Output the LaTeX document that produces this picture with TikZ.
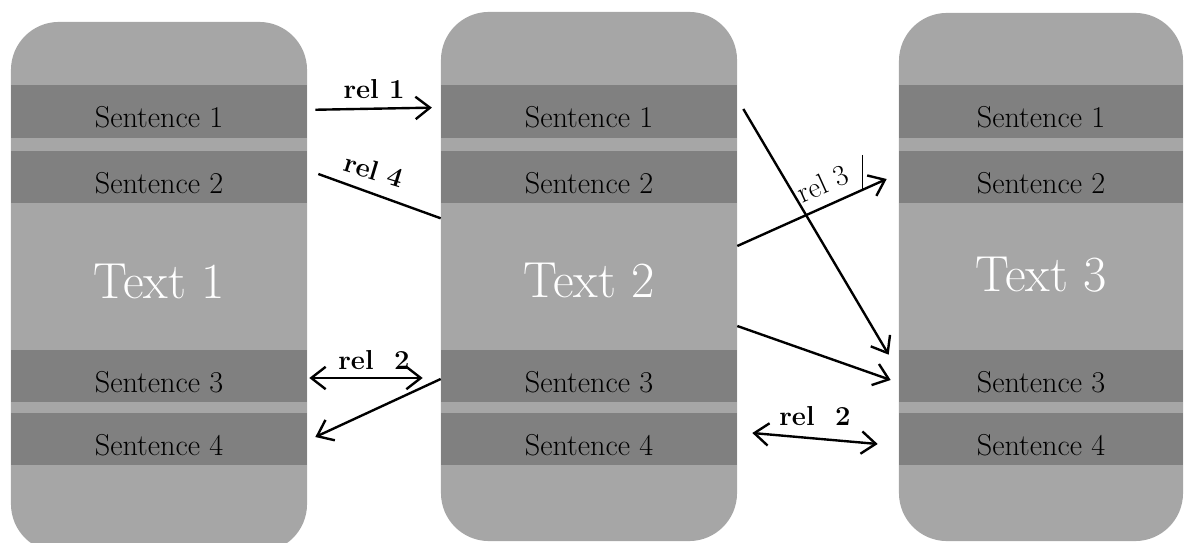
\documentclass[tikz,border=0pt]{standalone}
\usepackage{tikz}
\usetikzlibrary{arrows.meta, positioning}

\definecolor{panelgray}{HTML}{A6A6A6}
\definecolor{bandgray}{HTML}{808080}

\begin{document}
\begin{tikzpicture}[
  x=0.025cm, y=-0.025cm,
  panel/.style={rectangle, rounded corners=1.2cm, fill=panelgray},
  title/.style={text=white, font=\fontsize{36}{42}\selectfont},
  band/.style={rectangle, fill=bandgray, minimum height=1.3cm, text height=23pt, text depth=0pt, font=\fontsize{21.5}{25}\selectfont},
  arr/.style={-{Straight Barb[length=3.6mm, width=5.6mm]}, line width=1.7pt},
  darr/.style={{Straight Barb[length=3.6mm, width=5.6mm]}-{Straight Barb[length=3.6mm, width=5.6mm]}, line width=1.7pt},
  rel/.style={font=\fontsize{19.5}{23}\selectfont\bfseries}
]
  \useasboundingbox (0,0) rectangle (1184,543);

  % the three texts
  \node[panel, minimum width=7.4cm, minimum height=13.25cm] (t1) at (159,287) {};
  \node[panel, minimum width=7.4cm, minimum height=13.225cm] (t2) at (589,276.5) {};
  \node[panel, minimum width=7.1cm, minimum height=13.2cm] (t3) at (1041,277) {};
  \node[title] (x1) at ([yshift=0.15cm]t1.center) {Text 1};
  \node[title] (x2) at ([yshift=-0.11cm]t2.center) {Text 2};
  \node[title] (x3) at ([yshift=0.05cm]t3.center) {Text 3};

  % sentences
  \node[band, minimum width=7.4cm] (a1) at (159,111.5) {Sentence 1};
  \node[band, minimum width=7.4cm] (a2) at (159,177) {Sentence 2};
  \node[band, minimum width=7.4cm] (a3) at (159,376) {Sentence 3};
  \node[band, minimum width=7.4cm] (a4) at (159,439) {Sentence 4};

  \node[band, minimum width=7.4cm] (b1) at (589,111.5) {Sentence 1};
  \node[band, minimum width=7.4cm] (b2) at (589,177) {Sentence 2};
  \node[band, minimum width=7.4cm] (b3) at (589,376) {Sentence 3};
  \node[band, minimum width=7.4cm] (b4) at (589,439) {Sentence 4};

  \node[band, minimum width=7.1cm] (c1) at (1041,111.5) {Sentence 1};
  \node[band, minimum width=7.1cm] (c2) at (1041,177) {Sentence 2};
  \node[band, minimum width=7.1cm] (c3) at (1041,376) {Sentence 3};
  \node[band, minimum width=7.1cm] (c4) at (1041,439) {Sentence 4};

  % relations between text 1 and text 2
  \draw[arr, shorten <=0.2cm, shorten >=0.22cm] ([yshift=0.04cm]a1.east) -- ([yshift=0.1cm]b1.west)
    node[rel, midway, above=3pt] {rel 1};
  \draw[line width=1.7pt] ([xshift=0.275cm, yshift=0.075cm]a2.east) -- ([yshift=-0.375cm]b2.south west)
    node[rel, pos=0.4, above=5pt, sloped, rotate=3] {rel 4};
  \draw[darr, shorten <=0.05cm, shorten >=0.45cm] ([yshift=-0.05cm]a3.east) -- ([yshift=-0.05cm]b3.west)
    node[rel, midway, above=2pt] {rel\ \ 2};
  \draw[arr] ([yshift=-0.075cm]b3.west) -- ([xshift=0.2cm, yshift=0.05cm]a4.east);

  % relations between text 2 and text 3
  \draw[arr] ([xshift=0.15cm, yshift=0.0625cm]b1.east) -- ([xshift=-0.25cm, yshift=-0.125cm]c3.north west);
  \draw[arr] ([yshift=0.7625cm]t2.east) -- ([xshift=-0.3cm, yshift=-0.05cm]c2.west)
    node[font=\fontsize{21}{25}\selectfont, pos=0.63, above=4pt, sloped] {rel 3};
  \draw[arr] ([yshift=-1.2375cm]t2.east) -- ([xshift=-0.2cm, yshift=-0.1cm]c3.west);
  \draw[darr] ([xshift=0.375cm, yshift=0.15cm]b4.east) -- ([xshift=-0.525cm, yshift=-0.125cm]c4.west)
    node[rel, midway, above=5pt] {rel\ \ 2};
  \draw[thin] ([xshift=-0.9cm, yshift=0.55cm]c2.west) -- ++(0,-0.875cm);
\end{tikzpicture}
\end{document}
